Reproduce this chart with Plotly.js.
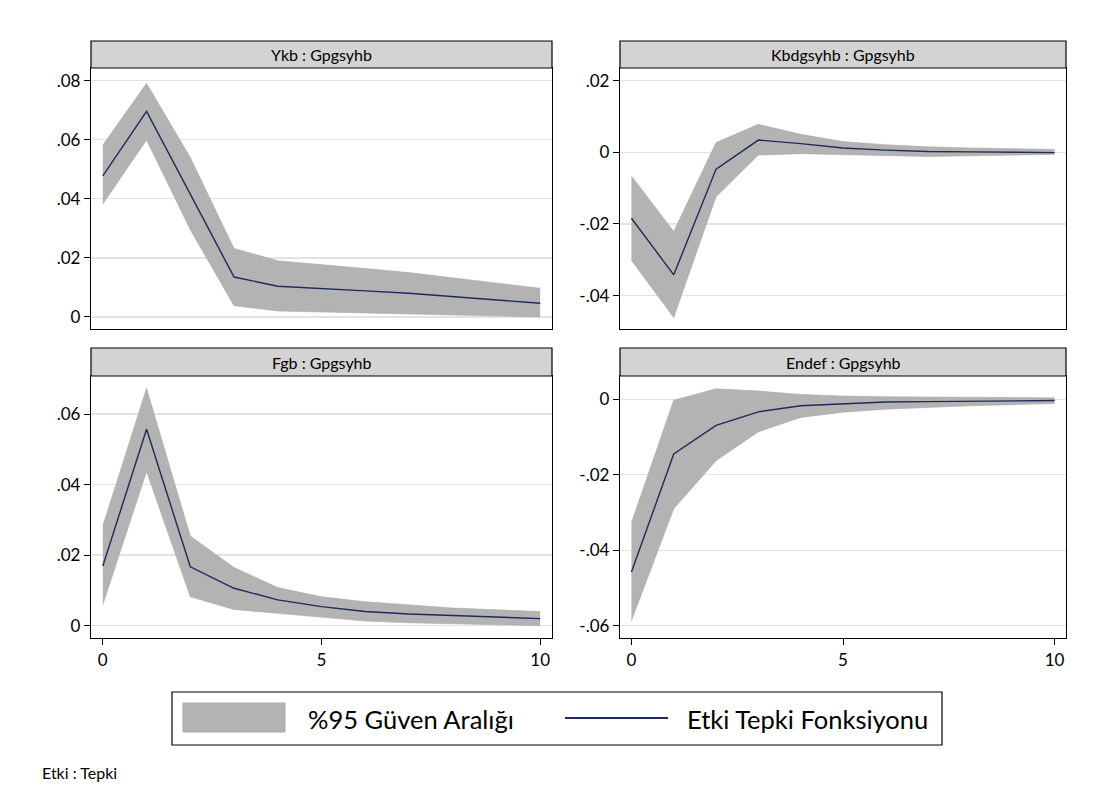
<!DOCTYPE html>
<html>
<head>
<meta charset="utf-8">
<script src="https://cdn.plot.ly/plotly-3.0.1.min.js"></script>
<style>html,body{margin:0;padding:0;background:#fff;}#chart{width:1113px;height:787px;}</style>
</head>
<body>
<div id="chart"></div>
<script>
// ---------------- DATA ----------------
const steps = [0,1,2,3,4,5,6,7,8,9,10];
const panelTitles = ["Ykb : Gpgsyhb", "Kbdgsyhb : Gpgsyhb", "Fgb : Gpgsyhb", "Endef : Gpgsyhb"];
const legendLabels = ["%95 Güven Aralığı", "Etki Tepki Fonksiyonu"];
const noteText = "Etki : Tepki";

const irfYkb   = [0.0478, 0.0696, 0.0416, 0.0135, 0.0104, 0.0097, 0.0088, 0.0080, 0.0069, 0.0058, 0.0046];
const upperYkb = [0.0582, 0.0791, 0.0540, 0.0232, 0.0190, 0.0178, 0.0164, 0.0150, 0.0133, 0.0116, 0.0097];
const lowerYkb = [0.0382, 0.0599, 0.0295, 0.0038, 0.0020, 0.0017, 0.0014, 0.0010, 0.0006, 0.0003, 0.0000];

const irfKbd   = [-0.0184, -0.0342, -0.0047, 0.0034, 0.0024, 0.0012, 0.0006, 0.0002, 0.0001, -0.0001, -0.0001];
const upperKbd = [-0.0066, -0.0221, 0.0027, 0.0078, 0.0050, 0.0030, 0.0021, 0.0015, 0.0012, 0.0010, 0.0008];
const lowerKbd = [-0.0302, -0.0461, -0.0124, -0.0008, -0.0004, -0.0007, -0.0011, -0.0012, -0.0010, -0.0008, -0.0006];

const irfFgb   = [0.0169, 0.0557, 0.0167, 0.0106, 0.0073, 0.0054, 0.0040, 0.0033, 0.0029, 0.0025, 0.0020];
const upperFgb = [0.0283, 0.0673, 0.0254, 0.0165, 0.0108, 0.0082, 0.0068, 0.0058, 0.0050, 0.0045, 0.0040];
const lowerFgb = [0.0059, 0.0437, 0.0082, 0.0046, 0.0035, 0.0024, 0.0013, 0.0008, 0.0005, 0.0002, 0.0000];

const irfEndef   = [-0.0458, -0.0145, -0.0069, -0.0033, -0.0017, -0.0011, -0.0007, -0.0006, -0.0005, -0.0004, -0.0003];
const upperEndef = [-0.0327, -0.0002, 0.0028, 0.0022, 0.0013, 0.0009, 0.0007, 0.0006, 0.0005, 0.0005, 0.0004];
const lowerEndef = [-0.0587, -0.0290, -0.0163, -0.0086, -0.0048, -0.0034, -0.0026, -0.0021, -0.0017, -0.0014, -0.0011];

const xTickVals = [0, 5, 10];
const xTickText = ["0", "5", "10"];
const yTicks1 = [0, 0.02, 0.04, 0.06, 0.08];
const yText1  = ["0", ".02", ".04", ".06", ".08"];
const yTicks2 = [-0.04, -0.02, 0, 0.02];
const yText2  = ["-.04", "-.02", "0", ".02"];
const yTicks3 = [0, 0.02, 0.04, 0.06];
const yText3  = ["0", ".02", ".04", ".06"];
const yTicks4 = [-0.06, -0.04, -0.02, 0];
const yText4  = ["-.06", "-.04", "-.02", "0"];

// ---------------- STYLE / LAYOUT ----------------
const W = 1113, H = 787;
const FONT = "Lato, 'Open Sans', 'Liberation Sans', sans-serif";
const bandColor = "#b3b3b3";
const bandEdge = "#a9a9a9";
const lineColor = "#1c2b5a";
const px = x => x / W;
const py = y => 1 - y / H;

const panels = [
  {title: panelTitles[0], irf: irfYkb, up: upperYkb, lo: lowerYkb, xd: [91, 552], yd: [68, 329], strip: 41, yr: [-0.0041, 0.0843], tv: yTicks1, tt: yText1, showX: false},
  {title: panelTitles[1], irf: irfKbd, up: upperKbd, lo: lowerKbd, xd: [620, 1066], yd: [68, 329], strip: 41, yr: [-0.0493, 0.0235], tv: yTicks2, tt: yText2, showX: false},
  {title: panelTitles[2], irf: irfFgb, up: upperFgb, lo: lowerFgb, xd: [91, 552], yd: [376, 638], strip: 348, yr: [-0.0035, 0.0708], tv: yTicks3, tt: yText3, showX: true},
  {title: panelTitles[3], irf: irfEndef, up: upperEndef, lo: lowerEndef, xd: [620, 1066], yd: [376, 638], strip: 348, yr: [-0.0633, 0.0062], tv: yTicks4, tt: yText4, showX: true}
];

const traces = [];
const layout = {
  width: W, height: H,
  margin: {l: 0, r: 0, t: 0, b: 0},
  paper_bgcolor: "#ffffff",
  plot_bgcolor: "#ffffff",
  showlegend: false,
  font: {family: FONT, size: 16, color: "#000"},
  shapes: [],
  annotations: []
};

panels.forEach((p, i) => {
  const n = i + 1;
  const xa = "x" + (n === 1 ? "" : n);
  const ya = "y" + (n === 1 ? "" : n);
  traces.push({x: steps, y: p.lo, xaxis: xa, yaxis: ya, type: "scatter", mode: "lines",
    line: {color: bandEdge, width: 0.6}, hoverinfo: "skip"});
  traces.push({x: steps, y: p.up, xaxis: xa, yaxis: ya, type: "scatter", mode: "lines",
    fill: "tonexty", fillcolor: bandColor, line: {color: bandEdge, width: 0.6}, name: legendLabels[0]});
  traces.push({x: steps, y: p.irf, xaxis: xa, yaxis: ya, type: "scatter", mode: "lines",
    line: {color: lineColor, width: 1.4}, name: legendLabels[1]});

  const xKey = "xaxis" + (n === 1 ? "" : n);
  const yKey = "yaxis" + (n === 1 ? "" : n);
  layout[xKey] = {
    domain: [px(p.xd[0]), px(p.xd[1])],
    anchor: ya,
    range: [-0.27, 10.27],
    tickvals: xTickVals, ticktext: xTickText,
    showticklabels: p.showX,
    ticks: p.showX ? "outside" : "",
    ticklen: 6, tickcolor: "#000", tickwidth: 1,
    showgrid: false, zeroline: false,
    showline: true, linecolor: "#000", linewidth: 1.2, mirror: true,
    tickfont: {family: FONT, size: 17, color: "#000"},
    fixedrange: true
  };
  layout[yKey] = {
    domain: [py(p.yd[1]), py(p.yd[0])],
    anchor: xa,
    range: p.yr,
    tickvals: p.tv, ticktext: p.tt,
    ticks: "outside", ticklen: 6, tickcolor: "#000", tickwidth: 1,
    showgrid: true, gridcolor: "#e3e3e3", gridwidth: 1.3,
    zeroline: false,
    showline: true, linecolor: "#000", linewidth: 1.2, mirror: true,
    tickfont: {family: FONT, size: 17, color: "#000"},
    fixedrange: true
  };
  // strip header
  layout.shapes.push({type: "rect", xref: "paper", yref: "paper", layer: "above",
    x0: px(p.xd[0]), x1: px(p.xd[1]), y0: py(p.yd[0]), y1: py(p.strip),
    fillcolor: "#d3d3d3", line: {color: "#000", width: 1.2}});
  layout.annotations.push({xref: "paper", yref: "paper",
    x: px((p.xd[0] + p.xd[1]) / 2), y: py((p.strip + p.yd[0]) / 2),
    xanchor: "center", yanchor: "middle", showarrow: false,
    text: p.title, font: {family: FONT, size: 16, color: "#000"}});
});

// legend box (drawn in paper coordinates)
layout.shapes.push({type: "rect", xref: "paper", yref: "paper",
  x0: px(172), x1: px(942), y0: py(745), y1: py(692),
  fillcolor: "#fff", line: {color: "#000", width: 1.2}});
layout.shapes.push({type: "rect", xref: "paper", yref: "paper",
  x0: px(183), x1: px(285), y0: py(732), y1: py(703),
  fillcolor: bandColor, line: {color: bandEdge, width: 1}});
layout.shapes.push({type: "line", xref: "paper", yref: "paper",
  x0: px(565), x1: px(668), y0: py(718), y1: py(718),
  line: {color: lineColor, width: 2}});
layout.annotations.push({xref: "paper", yref: "paper", x: px(306), y: py(719),
  xanchor: "left", yanchor: "middle", showarrow: false,
  text: legendLabels[0], font: {family: FONT, size: 25.5, color: "#000"}});
layout.annotations.push({xref: "paper", yref: "paper", x: px(685), y: py(719),
  xanchor: "left", yanchor: "middle", showarrow: false,
  text: legendLabels[1], font: {family: FONT, size: 25.5, color: "#000"}});
layout.annotations.push({xref: "paper", yref: "paper", x: px(40), y: py(772),
  xanchor: "left", yanchor: "middle", showarrow: false,
  text: noteText, font: {family: FONT, size: 16, color: "#000"}});

Plotly.newPlot("chart", traces, layout, {displayModeBar: false, staticPlot: true});
</script>
</body>
</html>
